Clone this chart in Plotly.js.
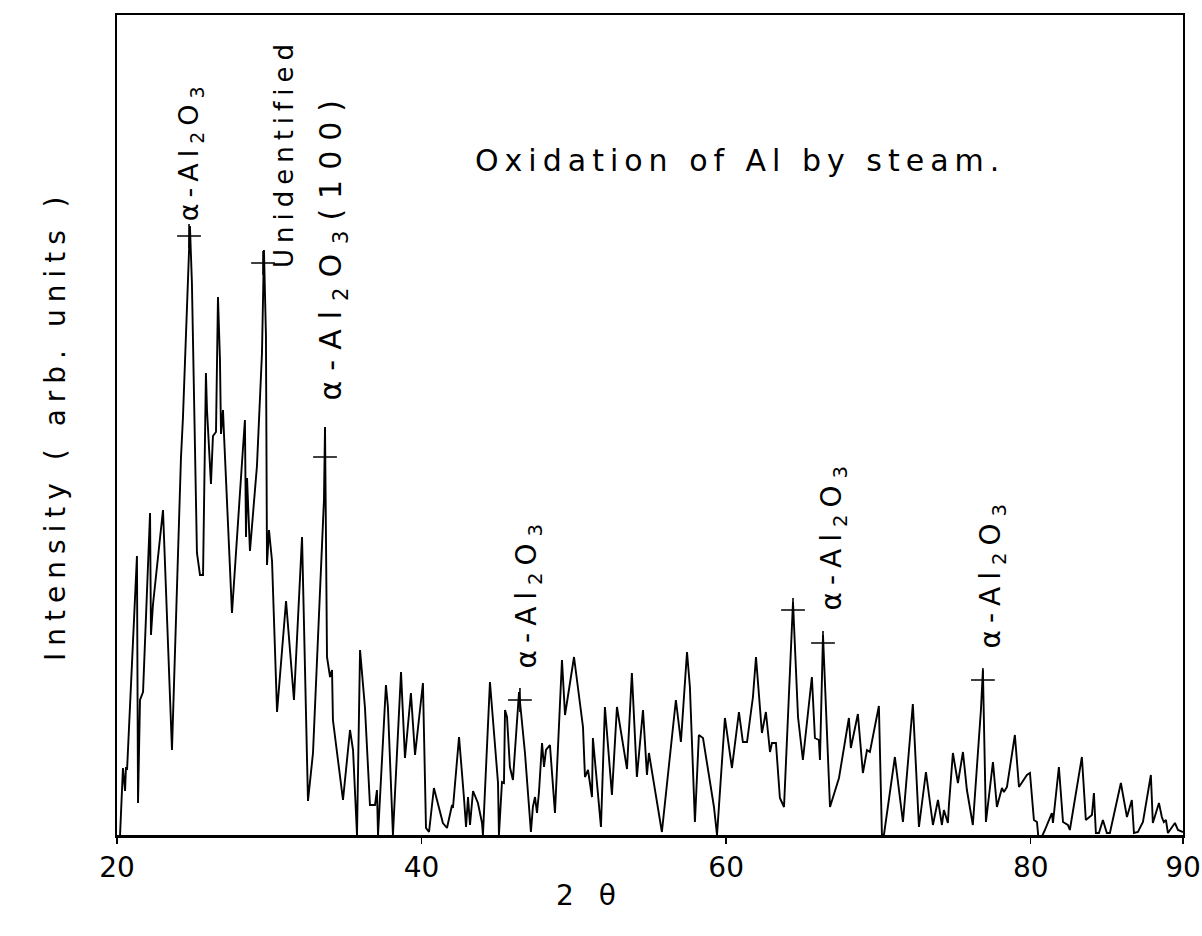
<!DOCTYPE html>
<html>
<head>
<meta charset="utf-8">
<script src="https://cdn.plot.ly/plotly-3.0.1.min.js"></script>
<style>
  html, body { margin: 0; padding: 0; background: #fff; }
  #chart { width: 1202px; height: 936px; }
</style>
</head>
<body>
<div id="chart"></div>
<script>
// Diffraction pattern (2θ in degrees, intensity in arbitrary units)
const twoTheta = [20.20,20.39,20.53,20.59,20.66,21.18,21.31,21.38,21.51,21.71,22.17,22.23,22.36,23.02,23.61,24.20,24.33,24.79,24.92,25.25,25.45,25.65,25.78,25.84,25.91,26.17,26.30,26.50,26.63,26.76,26.83,26.96,27.03,27.55,28.21,28.40,28.47,28.54,28.73,29.19,29.52,29.65,29.78,29.85,29.98,30.18,30.51,31.10,31.62,32.15,32.54,32.80,32.87,33.59,33.66,33.79,33.99,34.12,34.18,34.84,35.30,35.50,35.76,35.96,36.28,36.61,36.94,37.07,37.14,37.66,37.79,38.12,38.65,38.91,39.30,39.57,40.09,40.29,40.49,40.81,41.40,41.67,42.00,42.06,42.46,42.78,42.92,43.05,43.18,43.38,43.70,43.97,44.03,44.49,45.02,45.08,45.28,45.41,45.48,45.61,45.80,46.00,46.40,46.79,46.92,47.18,47.31,47.45,47.58,47.71,47.91,48.04,48.17,48.43,48.76,49.22,49.42,50.01,50.60,50.73,50.93,51.19,51.25,51.78,52.04,52.50,52.83,53.49,53.81,54.14,54.54,54.80,54.93,55.78,56.70,57.03,57.43,57.62,57.95,58.21,58.48,58.81,58.94,59.20,59.40,59.92,60.38,60.84,61.10,61.37,61.56,61.76,61.96,62.35,62.61,62.88,63.01,63.27,63.53,63.80,64.39,64.72,65.04,65.63,65.83,66.09,66.16,66.36,66.82,67.14,67.41,68.06,68.19,68.65,68.98,69.25,69.44,70.03,70.23,70.36,71.08,71.61,72.26,72.66,73.12,73.58,73.91,74.17,74.30,74.56,74.63,74.89,75.22,75.55,75.81,76.20,76.73,76.86,77.06,77.52,77.78,78.11,78.24,78.44,78.96,79.23,79.75,79.95,80.21,80.41,80.54,80.93,81.39,81.46,81.85,82.12,82.44,82.57,83.36,83.62,84.02,84.15,84.28,84.48,84.74,85.00,85.20,85.92,86.32,86.64,86.78,87.04,87.37,87.89,88.02,88.42,88.61,88.74,88.88,89.01,89.47,89.67,90.00];
const intensity = [0,67,44,68,65,242,279,32,135,143,322,200,230,325,85,377,417,609,552,282,260,260,425,462,425,351,399,403,538,476,401,425,399,222,373,415,298,357,284,369,482,585,500,270,305,274,123,234,135,298,34,77,82,335,408,178,158,165,115,35,105,85,0,185,128,30,30,45,0,150,128,0,163,77,142,80,152,7,3,47,12,7,30,27,98,38,8,38,10,44,32,12,0,153,52,0,53,52,125,118,68,55,143,82,58,3,28,38,22,43,92,68,85,90,22,175,120,178,108,58,65,38,97,8,128,40,128,66,162,58,125,60,82,3,135,93,183,148,13,100,97,65,55,28,0,117,67,123,93,93,115,138,178,102,123,83,92,92,37,28,233,118,75,158,97,95,75,200,28,45,57,117,87,121,62,85,83,129,0,0,78,13,131,8,63,10,35,10,25,12,30,82,52,83,45,10,125,165,13,73,28,47,43,48,100,48,60,62,15,13,-8,5,22,12,68,13,10,5,78,15,20,42,2,2,15,2,2,52,18,35,2,3,13,60,12,32,18,13,15,2,12,5,3];

// Marked peaks
const peakX = [24.73, 29.59, 33.66, 46.46, 64.39, 66.36, 76.86];
const peakY = [599, 572, 378, 135, 225, 192, 155];

// Peak labels (rotated text)
const labelText = ['α-Al<sub>2</sub>O<sub>3</sub>', 'Unidentified', 'α-Al<sub>2</sub>O<sub>3</sub>(100)', 'α-Al<sub>2</sub>O<sub>3</sub>', 'α-Al<sub>2</sub>O<sub>3</sub>', 'α-Al<sub>2</sub>O<sub>3</sub>'];
const labelX = [24.85, 30.97, 34.18, 47.05, 67.08, 77.52];
const labelY = [612, 565, 433, 165, 223, 185];
const labelSize = [27, 26, 30, 28, 28, 28];
const labelSpacing = [6, 6, 10, 7, 7, 7];

const tickVals = [20, 40, 60, 80, 90];
const tickText = ['20', '40', '60', '80', '90'];

const titleText = 'Oxidation of Al by steam.';
const xTitleText = '2 θ';
const yTitleText = 'Intensity ( arb. units )';

const FONT = 'DejaVu Sans, Noto Sans, sans-serif';
const sp = (txt, px) => '<span style="letter-spacing:' + px + 'px">' + txt + '</span>';

const traces = [
  {
    x: twoTheta, y: intensity, type: 'scatter', mode: 'lines',
    line: { color: '#000', width: 1.9 }, hoverinfo: 'skip'
  },
  {
    x: peakX, y: peakY, type: 'scatter', mode: 'markers',
    marker: { symbol: 'cross-thin', size: 17, color: '#000', line: { color: '#000', width: 1.6 } },
    hoverinfo: 'skip'
  }
];

const annotations = labelText.map((t, i) => ({
  x: labelX[i], y: labelY[i], xref: 'x', yref: 'y',
  text: sp(t, labelSpacing[i]), showarrow: false, textangle: -90,
  xanchor: 'center', yanchor: 'bottom',
  font: { family: FONT, size: labelSize[i], color: '#000' }
}));

annotations.push({
  x: 0.5844, y: 0.823, xref: 'paper', yref: 'paper',
  text: sp(titleText, 6), showarrow: false, xanchor: 'center', yanchor: 'middle',
  font: { family: FONT, size: 30, color: '#000' }
});
annotations.push({
  x: 0.4437, y: -0.0732, xref: 'paper', yref: 'paper',
  text: sp(xTitleText, 8), showarrow: false, xanchor: 'center', yanchor: 'middle',
  font: { family: FONT, size: 28, color: '#000' }
});
annotations.push({
  x: -0.0582, y: 0.5, xref: 'paper', yref: 'paper',
  text: sp(yTitleText, 7), showarrow: false, textangle: -90, xanchor: 'center', yanchor: 'middle',
  font: { family: FONT, size: 28, color: '#000' }
});

const layout = {
  width: 1202, height: 936,
  margin: { l: 117, r: 19, t: 15, b: 101 },
  paper_bgcolor: '#fff', plot_bgcolor: '#fff',
  showlegend: false,
  xaxis: {
    range: [20, 90], tickvals: tickVals, ticktext: tickText,
    ticks: 'outside', ticklen: 6, tickwidth: 1.5, tickcolor: '#000',
    showline: true, linecolor: '#000', linewidth: 2.5, mirror: true,
    showgrid: false, zeroline: false,
    tickfont: { family: FONT, size: 28, color: '#000' }
  },
  yaxis: {
    range: [0, 820], showticklabels: false, ticks: '',
    showline: true, linecolor: '#000', linewidth: 2, mirror: true,
    showgrid: false, zeroline: false
  },
  annotations: annotations
};

Plotly.newPlot('chart', traces, layout, { staticPlot: true, displayModeBar: false });
</script>
</body>
</html>
